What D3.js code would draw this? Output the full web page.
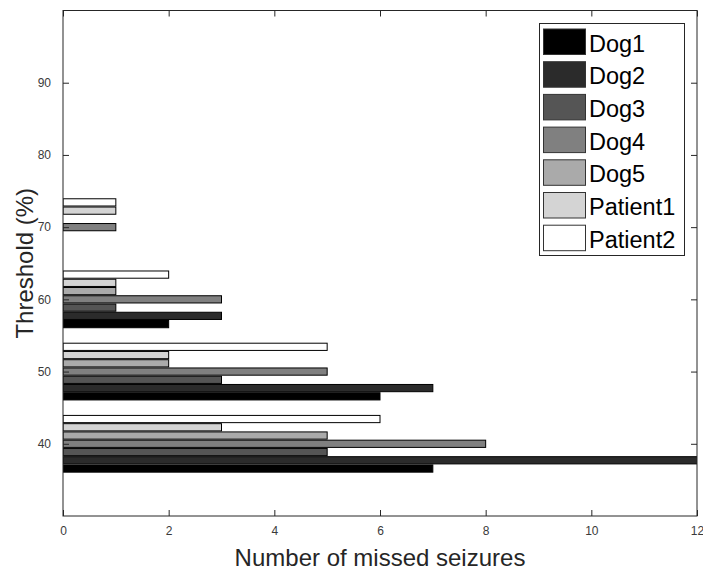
<!DOCTYPE html>
<html>
<head>
<meta charset="utf-8">
<script src="https://cdn.jsdelivr.net/npm/d3@7"></script>
<style>
  html, body { margin: 0; padding: 0; background: #fff; }
  svg { display: block; }
  text { font-family: "Liberation Sans", Arial, Helvetica, sans-serif; }
</style>
</head>
<body>
<svg id="chart" width="703" height="572"></svg>
<script>
// ---- data ----
const thresholds = [40, 50, 60, 70];
const seriesNames = ["Dog1", "Dog2", "Dog3", "Dog4", "Dog5", "Patient1", "Patient2"];
const dog1 = [7, 6, 2, 0];
const dog2 = [13, 7, 3, 0];
const dog3 = [5, 3, 1, 0];
const dog4 = [8, 5, 3, 1];
const dog5 = [5, 2, 1, 0];
const patient1 = [3, 2, 1, 1];
const patient2 = [6, 5, 2, 1];
const seriesValues = [dog1, dog2, dog3, dog4, dog5, patient1, patient2];
const xTicks = [0, 2, 4, 6, 8, 10, 12];
const yTicks = [40, 50, 60, 70, 80, 90];
const seriesColors = ["#000000", "#2b2b2b", "#555555", "#808080", "#aaaaaa", "#d4d4d4", "#ffffff"];

// ---- layout ----
const svg = d3.select("#chart");
const mLeft = 63, mRight = 697, mTop = 10.5, mBottom = 516;
const axisColor = "#262626";

const x = d3.scaleLinear().domain([0, 12]).range([mLeft, mRight]);
const y = d3.scaleLinear().domain([30, 100]).range([mBottom, mTop]);

// grouped bars: group width 8 units (0.8 of spacing 10), 7 slots
const groupWidth = 8;
const slot = groupWidth / seriesNames.length;
const barFrac = 0.875;

svg.append("defs").append("clipPath").attr("id", "plotclip")
  .append("rect").attr("x", mLeft).attr("y", mTop).attr("width", mRight - mLeft).attr("height", mBottom - mTop);

const barsG = svg.append("g").attr("clip-path", "url(#plotclip)");
seriesNames.forEach((name, si) => {
  const vals = seriesValues[si];
  barsG.selectAll(null)
    .data(thresholds.map((t, i) => ({ t, v: vals[i] })).filter(d => d.v > 0))
    .enter().append("rect")
    .attr("x", x(0))
    .attr("width", d => x(d.v) - x(0))
    .attr("y", d => {
      const c = d.t + (si - (seriesNames.length - 1) / 2) * slot;
      return y(c + slot * barFrac / 2);
    })
    .attr("height", d => y(0) - y(slot * barFrac))
    .attr("fill", seriesColors[si])
    .attr("stroke", "#000")
    .attr("stroke-width", 1);
});

// ---- axes ----
const tickLen = 6;
const xAxisB = d3.axisBottom(x).tickValues(xTicks).tickSize(-tickLen).tickPadding(10).tickSizeOuter(0);
const xAxisT = d3.axisTop(x).tickValues(xTicks).tickSize(-tickLen).tickFormat("").tickSizeOuter(0);
const yAxisL = d3.axisLeft(y).tickValues(yTicks).tickSize(-tickLen).tickPadding(12).tickSizeOuter(0);
const yAxisR = d3.axisRight(y).tickValues(yTicks).tickSize(-tickLen).tickFormat("").tickSizeOuter(0);

function style(g) {
  g.select(".domain").remove();
  g.selectAll(".tick line").attr("stroke", axisColor).attr("stroke-width", 1);
  g.selectAll(".tick text").attr("fill", "#3a3a3a").style("font-size", "12px")
    .style("font-family", "'Liberation Sans', Arial, sans-serif");
}
svg.append("g").attr("transform", `translate(0,${mBottom})`).call(xAxisB).call(style);
svg.append("g").attr("transform", `translate(0,${mTop})`).call(xAxisT).call(style);
svg.append("g").attr("transform", `translate(${mLeft},0)`).call(yAxisL).call(style);
svg.append("g").attr("transform", `translate(${mRight},0)`).call(yAxisR).call(style);

// box
svg.append("rect").attr("x", mLeft).attr("y", mTop).attr("width", mRight - mLeft).attr("height", mBottom - mTop)
  .attr("fill", "none").attr("stroke", axisColor).attr("stroke-width", 1);

// axis labels
svg.append("text").attr("x", (mLeft + mRight) / 2).attr("y", 566)
  .attr("text-anchor", "middle").attr("fill", "#262626").style("font-size", "24px")
  .text("Number of missed seizures");
svg.append("text")
  .attr("transform", `translate(33,${(mTop + mBottom) / 2}) rotate(-90)`)
  .attr("text-anchor", "middle").attr("fill", "#262626").style("font-size", "24px")
  .text("Threshold (%)");

// ---- legend ----
const lg = svg.append("g");
const lgX = 539.5, lgY = 23.5, lgW = 145, lgH = 232;
lg.append("rect").attr("x", lgX).attr("y", lgY).attr("width", lgW).attr("height", lgH)
  .attr("fill", "#fff").attr("stroke", axisColor).attr("stroke-width", 1);
const rowH = 32.7;
seriesNames.forEach((name, i) => {
  const ry = 29 + i * rowH;
  lg.append("rect").attr("x", 543.5).attr("y", ry).attr("width", 42).attr("height", 25.5)
    .attr("fill", seriesColors[i]).attr("stroke", "#333").attr("stroke-width", 1);
  lg.append("text").attr("x", 589).attr("y", ry + 22.5)
    .attr("fill", "#000").style("font-size", "23.5px").text(name);
});
</script>
</body>
</html>
